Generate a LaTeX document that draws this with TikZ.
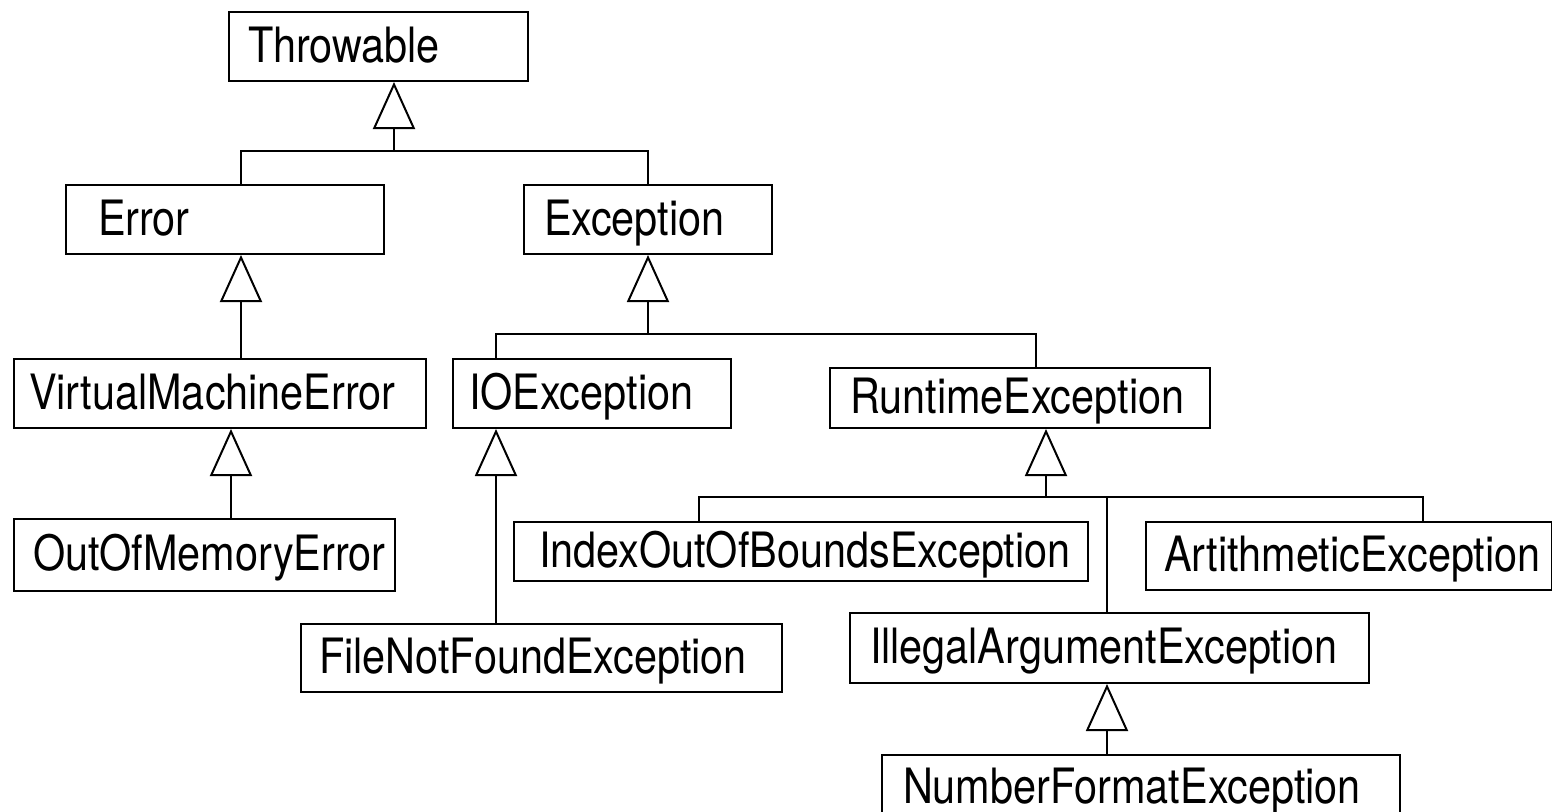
\documentclass[tikz,border=0pt]{standalone}
\usepackage{fontspec}
\setmainfont[FakeStretch=0.85]{TeX Gyre Heros}
\usepackage{tikz}
\usetikzlibrary{arrows.meta}
\tikzset{
		lineStyle/.style = 	{line width = 2pt},
		cls/.style n args = {3}{draw, lineStyle, anchor=north west, inner xsep=0pt, inner ysep=0pt,
			align=left, text width=#1pt, minimum height=#2pt, text height=35pt, text depth=4pt,
			font=\fontsize{48.7}{58}\selectfont, execute at begin node={\hspace*{#3pt}}},
		isa/.style = 		{lineStyle, -{Triangle[open, length=47pt, width=42pt]}},
		x=1pt, y=-1pt
}

\begin{document}
\begin{tikzpicture}
  \useasboundingbox (0,0) rectangle (1552,811);

  % Draw the classes
  \node[cls={299}{69}{19}] (throwable) at (228,11) {Throwable};
  \node[cls={318}{69}{32}] (error) at (65,184) {Error};
  \node[cls={248}{69}{20}] (exception) at (523,184) {Exception};
  \node[cls={412}{69}{15}] (vmError) at (13,358) {VirtualMachineError};
  \node[cls={381}{72}{19}] (oomError) at (13,518) {OutOfMemoryError};
  \node[cls={278}{69}{16}] (ioException) at (452,358) {IOException};
  \node[cls={380}{60}{20}] (runtimeException) at (829,367) {RuntimeException};
  \node[cls={481}{68}{18}] (fnfException) at (300,623) {FileNotFoundException};
  \node[cls={574}{59}{25}] (ioobException) at (513,521) {IndexOutOfBoundsException};
  \node[cls={406}{68}{18}] (arithException) at (1145,521) {ArtithmeticException};
  \node[cls={519}{70}{20}] (iaException) at (849,612) {IllegalArgumentException};
  \node[cls={518}{66}{21}] (nfException) at (881,754) {NumberFormatException};

  % Joints where several subclasses meet
  \coordinate (jThrowable) at (394,151);
  \coordinate (jException) at (648,334);
  \coordinate (jRuntime) at (1046,497);

  % Draw stems up to the parent
  \foreach \p/\j in {throwable/jThrowable, exception/jException, runtimeException/jRuntime}
    \draw[isa] (\j) -- (\j |- \p.south);

  % Draw branches down to the children
  \foreach \j/\c/\cx in {jThrowable/error/241, jThrowable/exception/648,
                         jException/ioException/496, jException/runtimeException/1036,
                         jRuntime/ioobException/699, jRuntime/iaException/1107,
                         jRuntime/arithException/1423}
    \draw[lineStyle] (\j) -| (\cx,0 |- \c.north);

  % Draw single subclasses
  \foreach \p/\c/\cx in {error/vmError/241, vmError/oomError/231,
                         ioException/fnfException/496, iaException/nfException/1107}
    \draw[isa] (\cx,0 |- \c.north) -- (\cx,0 |- \p.south);

\end{tikzpicture}
\end{document}
